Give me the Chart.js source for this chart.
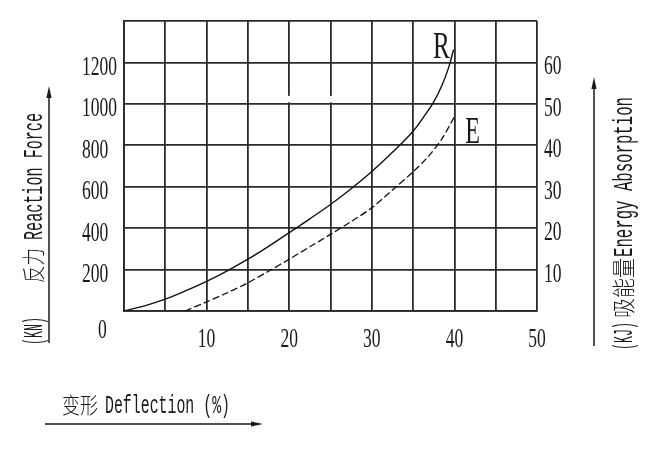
<!DOCTYPE html>
<html>
<head>
<meta charset="utf-8">
<script src="https://cdn.jsdelivr.net/npm/chart.js@4.4.1/dist/chart.umd.min.js"></script>
<style>
html, body { margin: 0; padding: 0; background: #fff; }
</style>
</head>
<body>
<canvas id="grafica" width="650" height="456"></canvas>
<script>
// Curva R: deformación (%) contra fuerza de reacción (kN)
const deflexionR = [0, 2.5, 5, 7.5, 10, 12.5, 15, 17.5, 20, 22.5, 25, 27.5, 30, 32.5, 35, 36.25, 37.5, 38.5, 39.3, 39.9];
const fuerzaR = [0, 25, 57, 98, 143, 194, 250, 312, 378, 445, 514, 590, 673, 766, 868, 935, 1010, 1090, 1175, 1262];

// Curva E: deformación (%) contra energía absorbida (kJ)
const deflexionE = [7.4, 10, 12.5, 15, 17.5, 20, 22.5, 25, 27.5, 30, 32.5, 35, 36.8, 38.5, 40];
const energiaE = [0, 2.2, 4.4, 6.8, 9.6, 12.5, 15.5, 18.5, 21.6, 24.9, 29.2, 33.6, 37.2, 41.6, 46.9];

const ticksX = [10, 20, 30, 40, 50];
const ticksFuerza = [200, 400, 600, 800, 1000, 1200];
const ticksEnergia = [10, 20, 30, 40, 50, 60];

const COLOR = '#1a1a1a';
const SERIF = "'Liberation Serif', 'DejaVu Serif', serif";
const MONO = "'Liberation Mono', 'DejaVu Sans Mono', monospace";
const CJK = "'Noto Sans CJK SC', sans-serif";

let grafica;

// texto estrecho: escala horizontal para imitar la fuente condensada
function textoAngosto(ctx, texto, x, y, sx, align) {
    const w = ctx.measureText(texto).width * sx;
    let x0 = x;
    if (align === 'right') x0 = x - w;
    if (align === 'center') x0 = x - w / 2;
    ctx.save();
    ctx.translate(x0, y);
    ctx.scale(sx, 1);
    ctx.textAlign = 'left';
    ctx.fillText(texto, 0, 0);
    ctx.restore();
}

// tramos de texto con ancho fijo, opcionalmente girados
function titulo(ctx, x, y, angulo, tramos) {
    ctx.save();
    ctx.translate(x, y);
    ctx.rotate(angulo);
    ctx.textBaseline = 'alphabetic';
    for (const t of tramos) {
        ctx.font = t.font;
        const w = ctx.measureText(t.texto).width;
        ctx.save();
        ctx.translate(t.pos, 0);
        ctx.scale(t.ancho / w, 1);
        ctx.fillText(t.texto, 0, 0);
        ctx.restore();
    }
    ctx.restore();
}

function flecha(ctx, x1, y1, x2, y2) {
    const a = Math.atan2(y2 - y1, x2 - x1);
    ctx.beginPath();
    ctx.moveTo(x1, y1);
    ctx.lineTo(x2 - Math.cos(a) * 6, y2 - Math.sin(a) * 6);
    ctx.stroke();
    ctx.save();
    ctx.translate(x2, y2);
    ctx.rotate(a);
    ctx.beginPath();
    ctx.moveTo(0, 0);
    ctx.lineTo(-12, -2.6);
    ctx.lineTo(-12, 2.6);
    ctx.closePath();
    ctx.fill();
    ctx.restore();
}

const huecos = {
    id: 'huecos',
    beforeDatasetsDraw(chart) {
        const { ctx, scales } = chart;
        const yTop = scales.y.getPixelForValue(1000);
        ctx.save();
        ctx.fillStyle = '#fff';
        for (const v of [20, 25]) {
            const px = scales.x.getPixelForValue(v);
            ctx.fillRect(px - 2, yTop - 8, 4, 6.5);
        }
        ctx.restore();
    }
};

const textos = {
    id: 'textos',
    afterDraw(chart) {
        const { ctx, scales, chartArea } = chart;
        ctx.save();
        ctx.fillStyle = COLOR;
        ctx.strokeStyle = COLOR;
        ctx.textBaseline = 'alphabetic';

        // etiquetas de los ejes
        ctx.font = '27px ' + SERIF;
        for (const v of ticksFuerza) {
            textoAngosto(ctx, String(v), 82, scales.y.getPixelForValue(v) + 12.5, 0.65, 'left');
        }
        for (const v of ticksEnergia) {
            textoAngosto(ctx, String(v), chartArea.right + 7, scales.y2.getPixelForValue(v) + 12, 0.65, 'left');
        }
        for (const v of ticksX) {
            textoAngosto(ctx, String(v), scales.x.getPixelForValue(v), chartArea.bottom + 36, 0.65, 'center');
        }
        textoAngosto(ctx, '0', chartArea.left - 21.5, chartArea.bottom + 27, 0.65, 'center');

        // nombres de las curvas
        ctx.font = '37px ' + SERIF;
        textoAngosto(ctx, 'R', scales.x.getPixelForValue(37.4), scales.y.getPixelForValue(1222), 0.68, 'left');
        textoAngosto(ctx, 'E', scales.x.getPixelForValue(41.3), scales.y.getPixelForValue(811), 0.65, 'left');

        // títulos
        titulo(ctx, 62, 413, 0, [
            { texto: '变形', font: '300 22px ' + CJK, pos: 0, ancho: 36 },
            { texto: 'Deflection (%)', font: '25px ' + MONO, pos: 43, ancho: 125 }
        ]);
        titulo(ctx, 42, 345, -Math.PI / 2, [
            { texto: '(KN)', font: '28px ' + MONO, pos: 0, ancho: 28 },
            { texto: '反力', font: '300 23px ' + CJK, pos: 62, ancho: 35 },
            { texto: 'Reaction Force', font: '28px ' + MONO, pos: 105, ancho: 127 }
        ]);
        titulo(ctx, 632, 350, -Math.PI / 2, [
            { texto: '(KJ)', font: '28px ' + MONO, pos: 0, ancho: 28 },
            { texto: '吸能量', font: '300 23px ' + CJK, pos: 32, ancho: 60 },
            { texto: 'Energy Absorption', font: '28px ' + MONO, pos: 93, ancho: 160 }
        ]);

        // flechas
        ctx.lineWidth = 1.5;
        flecha(ctx, 49, 343, 49, 86);
        flecha(ctx, 594, 346, 594, 77);
        flecha(ctx, 45, 424, 263, 424);
        ctx.restore();
    }
};

const rejilla = { color: '#2b2b2b', lineWidth: 1.8, drawTicks: false };
const borde = { display: true, color: '#2b2b2b', width: 1.8 };

const ctx = document.getElementById('grafica').getContext('2d');
grafica = new Chart(ctx, {
    type: 'line',
    data: {
        datasets: [{
            label: 'R',
            data: deflexionR.map((x, i) => ({ x: x, y: fuerzaR[i] })),
            yAxisID: 'y',
            borderColor: '#111',
            borderWidth: 1.4,
            pointRadius: 0,
            fill: false,
            tension: 0.4
        }, {
            label: 'E',
            data: deflexionE.map((x, i) => ({ x: x, y: energiaE[i] })),
            yAxisID: 'y2',
            borderColor: '#111',
            borderWidth: 1.3,
            borderDash: [7, 3],
            pointRadius: 0,
            fill: false,
            tension: 0.3
        }]
    },
    options: {
        responsive: false,
        animation: false,
        devicePixelRatio: 1,
        layout: { padding: { top: 21, left: 0, right: 0, bottom: 0 } },
        plugins: {
            legend: { display: false },
            tooltip: { enabled: false }
        },
        scales: {
            x: {
                type: 'linear',
                min: 0,
                max: 50,
                ticks: { stepSize: 5, display: false },
                grid: rejilla,
                border: borde,
                afterFit: (s) => { s.height = 145; }
            },
            y: {
                position: 'left',
                min: 0,
                max: 1400,
                ticks: { stepSize: 200, display: false },
                grid: rejilla,
                border: borde,
                afterFit: (s) => { s.width = 124; }
            },
            y2: {
                position: 'right',
                min: 0,
                max: 70,
                ticks: { stepSize: 10, display: false },
                grid: { display: false, drawTicks: false },
                border: { display: false },
                afterFit: (s) => { s.width = 113; }
            }
        }
    },
    plugins: [huecos, textos]
});
</script>
</body>
</html>
